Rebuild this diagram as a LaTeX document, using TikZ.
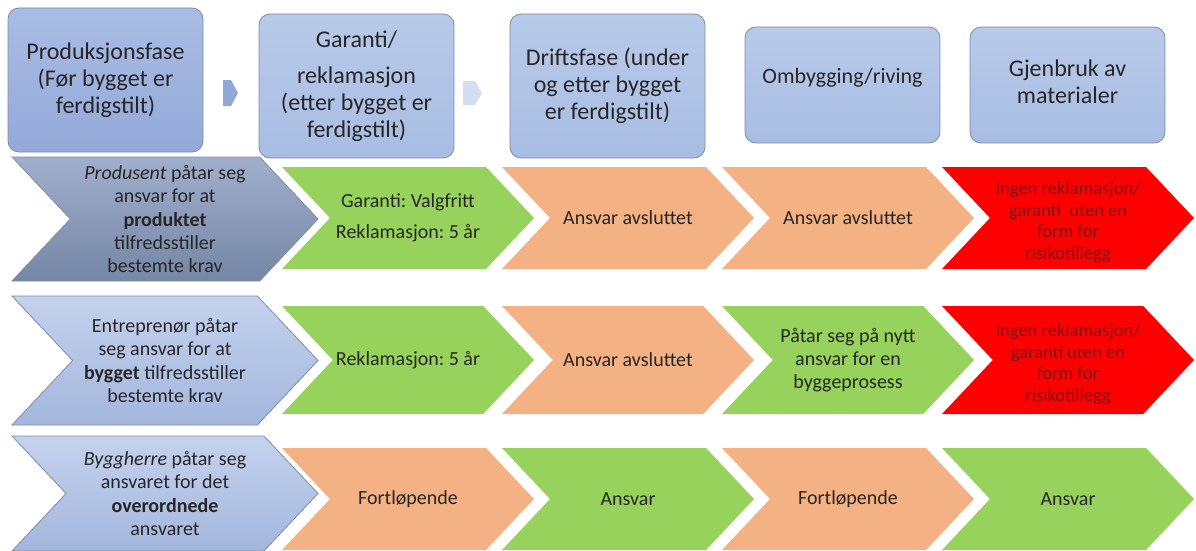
\documentclass[tikz,border=0pt]{standalone}
\usepackage{fontspec}
\setmainfont{Carlito}
\usetikzlibrary{positioning}
\frenchspacing

\definecolor{hdredge}{HTML}{7C8CA8}
\definecolor{txtdark}{HTML}{262626}
\definecolor{hdrtop}{HTML}{B8CAE9}
\definecolor{hdrbot}{HTML}{A8BDE3}
\definecolor{hdrdark}{HTML}{A9BCE3}
\definecolor{hdrdarkb}{HTML}{93A9D9}
\definecolor{leadtop}{HTML}{A0AFCB}
\definecolor{leadbot}{HTML}{7586A6}
\definecolor{lttop}{HTML}{C4D2ED}
\definecolor{ltbot}{HTML}{A3B6DD}
\definecolor{arrdark}{HTML}{8FA8D8}
\definecolor{arrlight}{HTML}{D3DDF0}
\definecolor{grn}{HTML}{97D35C}
\definecolor{org}{HTML}{F4B183}
\definecolor{rd}{HTML}{FF0000}
\definecolor{rdtxt}{HTML}{7A1515}

\begin{document}
\begin{tikzpicture}[x=1pt, y=-1pt, text=txtdark,
  hdr/.style={draw=hdredge, line width=0.8pt, rounded corners=11pt, align=center,
    minimum width=195, top color=hdrtop, bottom color=hdrbot,
    font=\fontsize{24}{27}\selectfont},
  lead/.style={draw=hdredge, line width=0.8pt, top color=leadtop, bottom color=leadbot},
  leadlt/.style={draw=hdredge, line width=0.8pt, top color=lttop, bottom color=ltbot},
  chgrn/.style={fill=grn}, chorg/.style={fill=org}, chred/.style={fill=rd},
  rowtxt/.style={align=center, font=\fontsize{20}{23.3}\selectfont},
  redtxt/.style={align=center, text=rdtxt, yshift=-4pt, font=\fontsize{18.5}{21.5}\selectfont}]
  \useasboundingbox (0,0) rectangle (1196,551);

  % phases
  \node[hdr, top color=hdrdark, bottom color=hdrdarkb, minimum height=144] (prod) at (105.5,80)
    {Produksjonsfase\\(Før bygget er\\ferdigstilt)};
  \node[hdr, minimum height=144] (garanti) at (356.5,86)
    {Garanti/\\[9pt]reklamasjon\\(etter bygget er\\ferdigstilt)};
  \node[hdr, minimum height=144] (drift) at (607.5,86)
    {Driftsfase (under\\og etter bygget\\er ferdigstilt)};
  \node[hdr, minimum height=116, font=\fontsize{22}{25}\selectfont, text depth=18pt] (ombygg) at (842.5,85)
    {Ombygging/riving};
  \node[hdr, minimum height=116, text depth=7pt] (gjenbruk) at (1067.5,85)
    {Gjenbruk av\\materialer};
  \fill[arrdark] (223,80) -- (231,80) -- (238,93) -- (231,106) -- (223,106) -- cycle;
  \fill[arrlight] (463,81) -- (475,81) -- (482,93) -- (475,105) -- (463,105) -- cycle;

  % chevrons: name/left/tip/top/bottom/look/text style/text
  \foreach \nm/\xa/\xb/\ya/\yb/\shp/\tst/\txt in {
    prodansv/12/318/157/281/lead/rowtxt/{\textit{Produsent} påtar seg\\ansvar for at\\\textbf{produktet}\\tilfredsstiller\\bestemte krav},
    entransv/12/318/296/425/leadlt/rowtxt/{Entreprenør påtar\\seg ansvar for at\\\textbf{bygget} tilfredsstiller\\bestemte krav},
    bhansv/12/318/436/551/leadlt/rowtxt/{\textit{Byggherre} påtar seg\\ansvaret for det\\\textbf{overordnede}\\ansvaret},
    p1/282/534/167/269/chgrn/rowtxt/{Garanti: Valgfritt\\[8pt]Reklamasjon: 5 år},
    p2/502/754/167/269/chorg/rowtxt/{Ansvar avsluttet},
    p3/722/974/167/269/chorg/rowtxt/{Ansvar avsluttet},
    p4/942/1194/167/269/chred/redtxt/{Ingen reklamasjon/\\garanti~~uten en\\form for\\risikotillegg},
    e1/282/534/306/414/chgrn/rowtxt/{Reklamasjon: 5 år},
    e2/502/754/306/414/chorg/rowtxt/{Ansvar avsluttet},
    e3/722/974/306/414/chgrn/rowtxt/{Påtar seg på nytt\\ansvar for en\\byggeprosess},
    e4/942/1194/306/414/chred/redtxt/{Ingen reklamasjon/\\garanti uten en\\form for\\risikotillegg},
    b1/282/534/448/550/chorg/rowtxt/{Fortløpende},
    b2/502/754/448/550/chgrn/rowtxt/{Ansvar},
    b3/722/974/448/550/chorg/rowtxt/{Fortløpende},
    b4/942/1194/448/550/chgrn/rowtxt/{Ansvar}}
  {
    \pgfmathsetmacro\chd{0.47*(\yb-\ya)}
    \pgfmathsetmacro\chm{(\ya+\yb)/2}
    \path[\shp] (\xa,\ya) -- (\xb-\chd,\ya) -- (\xb,\chm) -- (\xb-\chd,\yb)
      -- (\xa,\yb) -- (\xa+\chd,\chm) -- cycle;
    \node[\tst] (\nm) at ({(\xa+\xb)/2},\chm) {\txt};
  }
\end{tikzpicture}
\end{document}
